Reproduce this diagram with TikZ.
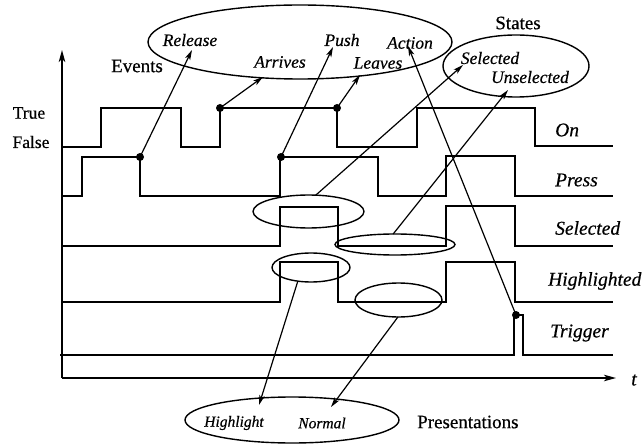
\documentclass[tikz,border=0pt]{standalone}
\usepackage{fontspec}
\setmainfont{Liberation Serif}[FakeBold=0.5]
\usetikzlibrary{shapes.geometric,arrows.meta}

\begin{document}
\begin{tikzpicture}[x=1pt,y=-1pt,
  sig/.style={line width=1.8pt, line join=miter},
  axis/.style={line width=1.6pt, -{Stealth[length=12pt,width=6.5pt,inset=3pt]}},
  ring/.style={draw, ellipse, line width=1.4pt, inner sep=0pt, outer sep=0pt},
  ptr/.style={line width=1.2pt, -{Stealth[length=10pt,width=5.5pt,inset=2.5pt]}},
  dot/.style={circle, fill, inner sep=0pt, minimum size=8pt},
  evlab/.style={font=\fontsize{17.5}{20}\selectfont\itshape, inner sep=0pt},
  siglab/.style={font=\fontsize{19.5}{22}\selectfont\itshape, inner sep=0pt},
  prlab/.style={font=\fontsize{15.5}{18}\selectfont\itshape, inner sep=0pt},
  rmlab/.style={font=\fontsize{19}{22}\selectfont, inner sep=0pt},
  tflab/.style={font=\fontsize{17.5}{20}\selectfont, inner sep=0pt}
]
\useasboundingbox (0,0) rectangle (644,446);

% axes
\coordinate (origin) at (62,378);
\coordinate (ytop) at (62,50);
\coordinate (tend) at (616,378);
\draw[axis] (origin) -- (ytop);
\draw[axis] (origin) -- (tend);

% signal traces
\draw[sig] (62,147) -- (101,147) -- (101,108) -- (181,108) -- (181,147)
  -- (220,147) -- (220,108) -- (337,108) -- (337,147) -- (417,147)
  -- (417,108) -- (535,108) -- (535,146) -- (613,146);
\draw[sig] (62,196) -- (82,196) -- (82,157) -- (140,157) -- (140,196)
  -- (280,196) -- (280,157) -- (378,157) -- (378,196) -- (446,196)
  -- (446,156) -- (515,156) -- (515,196) -- (613,196);
\draw[sig] (62,246) -- (280,246) -- (280,207) -- (338,207) -- (338,246)
  -- (446,246) -- (446,206) -- (515,206) -- (515,246) -- (613,246);
\draw[sig] (62,302) -- (280,302) -- (280,262) -- (338,262) -- (338,302)
  -- (446,302) -- (446,262) -- (515,262) -- (515,302) -- (613,302);
\draw[sig] (60,355) -- (514,355) -- (514,315) -- (523,315) -- (523,355)
  -- (613,355);

% event dots
\node[dot] (d1) at (140,157) {};
\node[dot] (d2) at (220,108) {};
\node[dot] (d3) at (281,157) {};
\node[dot] (d4) at (337,108) {};
\node[dot] (d5) at (516,315) {};

% grouping ellipses
\node[ring, minimum width=304pt, minimum height=74pt] (evring) at (300,42) {};
\node[ring, minimum width=146pt, minimum height=62pt] (string) at (516,66) {};
\node[ring, minimum width=214pt, minimum height=46pt] (prring) at (292,420) {};
\node[ring, minimum width=111pt, minimum height=33pt] (e1) at (308.5,211.5) {};
\node[ring, minimum width=120pt, minimum height=21pt] (e2) at (395,244.5) {};
\node[ring, minimum width=78pt, minimum height=29pt] (e3) at (311,267.5) {};
\node[ring, minimum width=87pt, minimum height=34pt] (e4) at (398.5,300) {};

% labels
\node[tflab] (ltrue) at (29,113) {True};
\node[tflab] (lfalse) at (31,142) {False};
\node[rmlab] (levents) at (137,66) {Events};
\node[rmlab] (lstates) at (518,23) {States};
\node[rmlab, anchor=west] (lpres) at (417,422) {Presentations};

\node[evlab] (lrel) at (190,40) {Release};
\node[evlab] (larr) at (280,62) {Arrives};
\node[evlab] (lpush) at (342,40) {Push};
\node[evlab] (lact) at (410,43) {Action};
\node[evlab] (llea) at (378,63) {Leaves};
\node[evlab] (lssel) at (490,58) {Selected};
\node[evlab] (lsuns) at (530,77) {Unselected};

\node[siglab, anchor=west] (lon) at (555,130) {On};
\node[siglab, anchor=west] (lpress) at (555,180) {Press};
\node[siglab, anchor=west] (lsel) at (555,228) {Selected};
\node[siglab, anchor=west] (lhi) at (548,281) {Highlighted};
\node[siglab, anchor=west] (ltrig) at (550,333) {Trigger};
\node[siglab] (lt) at (634,380) {t};

\node[prlab] (lhl) at (234,423) {Highlight};
\node[prlab] (lnorm) at (322,423) {Normal};

% arrow tips near the labels
\coordinate (tRel) at (192,50);
\coordinate (tArr) at (263,77);
\coordinate (tPush) at (333,47);
\coordinate (tLea) at (360,75);
\coordinate (tAct) at (408,46);
\coordinate (tSel) at (463,65);
\coordinate (tUns) at (508,90);
\coordinate (tHl) at (259,405);
\coordinate (tNorm) at (331,407);

% connectors
\draw[ptr] (d1.center) -- (tRel);
\draw[ptr] (d2.center) -- (tArr);
\draw[ptr] (d3.center) -- (tPush);
\draw[ptr] (d4.center) -- (tLea);
\draw[ptr] (d5.center) -- (tAct);
\draw[ptr] (e1.66) -- (tSel);
\draw[ptr] (e2.100) -- (tUns);
\draw[ptr] (e3.226) -- (tHl);
\draw[ptr] (e4.268) -- (tNorm);
\end{tikzpicture}
\end{document}
